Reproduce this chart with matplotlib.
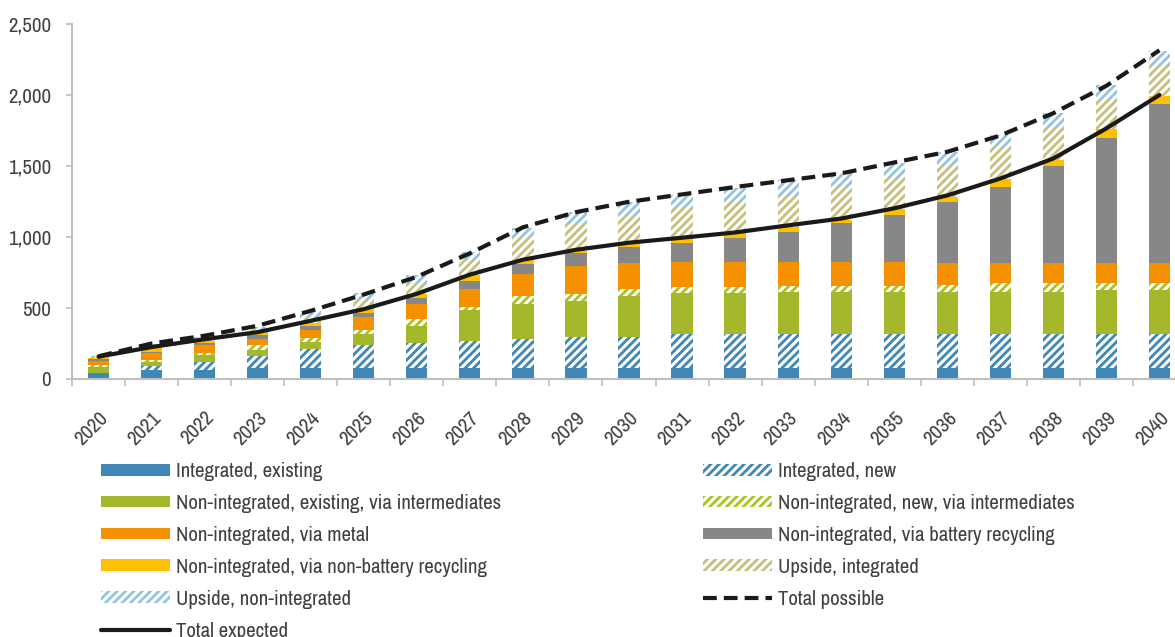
import matplotlib
matplotlib.use("Agg")
import matplotlib.pyplot as plt
import matplotlib.transforms as mtransforms
import numpy as np

years = [str(y) for y in range(2020, 2041)]

integrated_existing = [45, 63, 63, 75, 77, 77, 75, 75, 75, 75, 75, 77, 75, 75, 75, 75, 75, 75, 75, 75, 75]
integrated_new = [0, 29, 59, 87, 132, 162, 176, 193, 207, 223, 223, 240, 240, 240, 240, 240, 240, 240, 240, 240, 240]
nonint_existing = [42, 30, 47, 42, 54, 76, 125, 218, 244, 253, 286, 289, 288, 300, 300, 300, 300, 300, 300, 312, 312]
nonint_new = [12, 12, 16, 35, 23, 30, 44, 23, 58, 47, 47, 42, 43, 42, 42, 42, 45, 59, 59, 47, 47]
nonint_metal = [28, 47, 54, 43, 59, 89, 106, 125, 153, 198, 184, 176, 180, 167, 167, 167, 158, 144, 144, 144, 144]
nonint_battery = [12, 12, 17, 28, 31, 28, 42, 58, 73, 89, 117, 134, 165, 213, 272, 331, 431, 537, 684, 877, 1119]
nonint_nonbattery = [11, 23, 12, 12, 21, 31, 30, 40, 28, 19, 23, 35, 35, 36, 24, 42, 35, 53, 40, 63, 58]
upside_integrated = [3, 14, 17, 23, 30, 63, 76, 106, 152, 197, 200, 211, 223, 223, 235, 216, 223, 216, 223, 207, 216]
upside_nonintegrated = [8, 15, 13, 23, 50, 47, 58, 58, 71, 77, 94, 92, 94, 105, 93, 106, 94, 94, 106, 105, 101]

total_expected = [157, 225, 280, 330, 410, 492, 600, 735, 840, 910, 960, 995, 1032, 1082, 1130, 1202, 1293, 1412, 1553, 1765, 2000]
total_possible = [160, 250, 305, 375, 480, 595, 720, 885, 1068, 1175, 1248, 1300, 1352, 1400, 1448, 1525, 1600, 1715, 1872, 2065, 2315]

series_labels = [
    "Integrated, existing",
    "Integrated, new",
    "Non-integrated, existing, via intermediates",
    "Non-integrated, new, via intermediates",
    "Non-integrated, via metal",
    "Non-integrated, via battery recycling",
    "Non-integrated, via non-battery recycling",
    "Upside, integrated",
    "Upside, non-integrated",
]
line_labels = ["Total expected", "Total possible"]

series_values = [integrated_existing, integrated_new, nonint_existing, nonint_new,
                 nonint_metal, nonint_battery, nonint_nonbattery,
                 upside_integrated, upside_nonintegrated]
colors = ["#3f87b4", "#3f87b4", "#a5b72a", "#a9c41f", "#f59000", "#878787",
          "#ffc000", "#c5c07c", "#92c4e0"]
hatched = [False, True, False, True, False, False, False, True, True]

TEXT = "#404040"
plt.rcParams['font.family'] = ['Archivo Narrow', 'DejaVu Sans']
plt.rcParams['hatch.linewidth'] = 2.0

fig = plt.figure(figsize=(11.75, 6.37), dpi=100)
W, H = 1175, 637
ax = fig.add_axes([72 / W, 1 - 379 / H, (1186 - 72) / W, (379 - 24) / H])

x = np.arange(len(years))
bottom = np.zeros(len(years))
handles = []
for vals, lab, col, hat in zip(series_values, series_labels, colors, hatched):
    v = np.array(vals, dtype=float)
    if hat:
        b = ax.bar(x, v, 0.4, bottom=bottom, facecolor="white", edgecolor=col,
                   hatch="////", linewidth=0, label=lab)
    else:
        b = ax.bar(x, v, 0.4, bottom=bottom, color=col, linewidth=0, label=lab)
    handles.append(b)
    bottom += v

l_exp, = ax.plot(x, total_expected, color="#1a1a1a", lw=3.0, solid_capstyle="round",
                 label=line_labels[0], zorder=5)
l_pos, = ax.plot(x, total_possible, color="#1a1a1a", lw=3.0, ls=(0, (3.3, 1.7)),
                 label=line_labels[1], zorder=5)

ax.set_xlim(-0.5, 20.5)
ax.set_ylim(0, 2500)
ax.set_yticks([0, 500, 1000, 1500, 2000, 2500])
ax.set_yticklabels(["0", "500", "1,000", "1,500", "2,000", "2,500"])
ax.set_xticks(x)
ax.set_xticklabels(years, rotation=45, ha="right", va="top", rotation_mode="anchor")
offset = mtransforms.ScaledTranslation(-2 / 72, 0, fig.dpi_scale_trans)
for lbl in ax.get_xticklabels():
    lbl.set_transform(lbl.get_transform() + offset)
ax.set_xticks(np.arange(-0.5, 21, 1), minor=True)
ax.tick_params(axis="x", which="major", length=0, pad=21, labelsize=15, labelcolor=TEXT)
ax.tick_params(axis="x", which="minor", length=5, width=1.2, color="#bfbfbf", direction="out")
ax.tick_params(axis="y", length=4, width=1.2, color="#bfbfbf", labelsize=15, labelcolor=TEXT, pad=11)
for s in ["top", "right"]:
    ax.spines[s].set_visible(False)
for s in ["left", "bottom"]:
    ax.spines[s].set_color("#bfbfbf")
    ax.spines[s].set_linewidth(1.5)

left_h = [handles[0], handles[2], handles[4], handles[6], handles[8], l_exp]
right_h = [handles[1], handles[3], handles[5], handles[7], l_pos]
common = dict(frameon=False, fontsize=15, handlelength=3.3, handleheight=0.5,
              handletextpad=0.3, labelspacing=0.62, borderpad=0, borderaxespad=0,
              loc="upper left", labelcolor=TEXT)
fig.legend(left_h, [h.get_label() for h in left_h], bbox_to_anchor=(101 / W, 1 - 462 / H), **common)
fig.legend(right_h, [h.get_label() for h in right_h], bbox_to_anchor=(703 / W, 1 - 462 / H), **common)

fig.savefig("out.png", dpi=100)
